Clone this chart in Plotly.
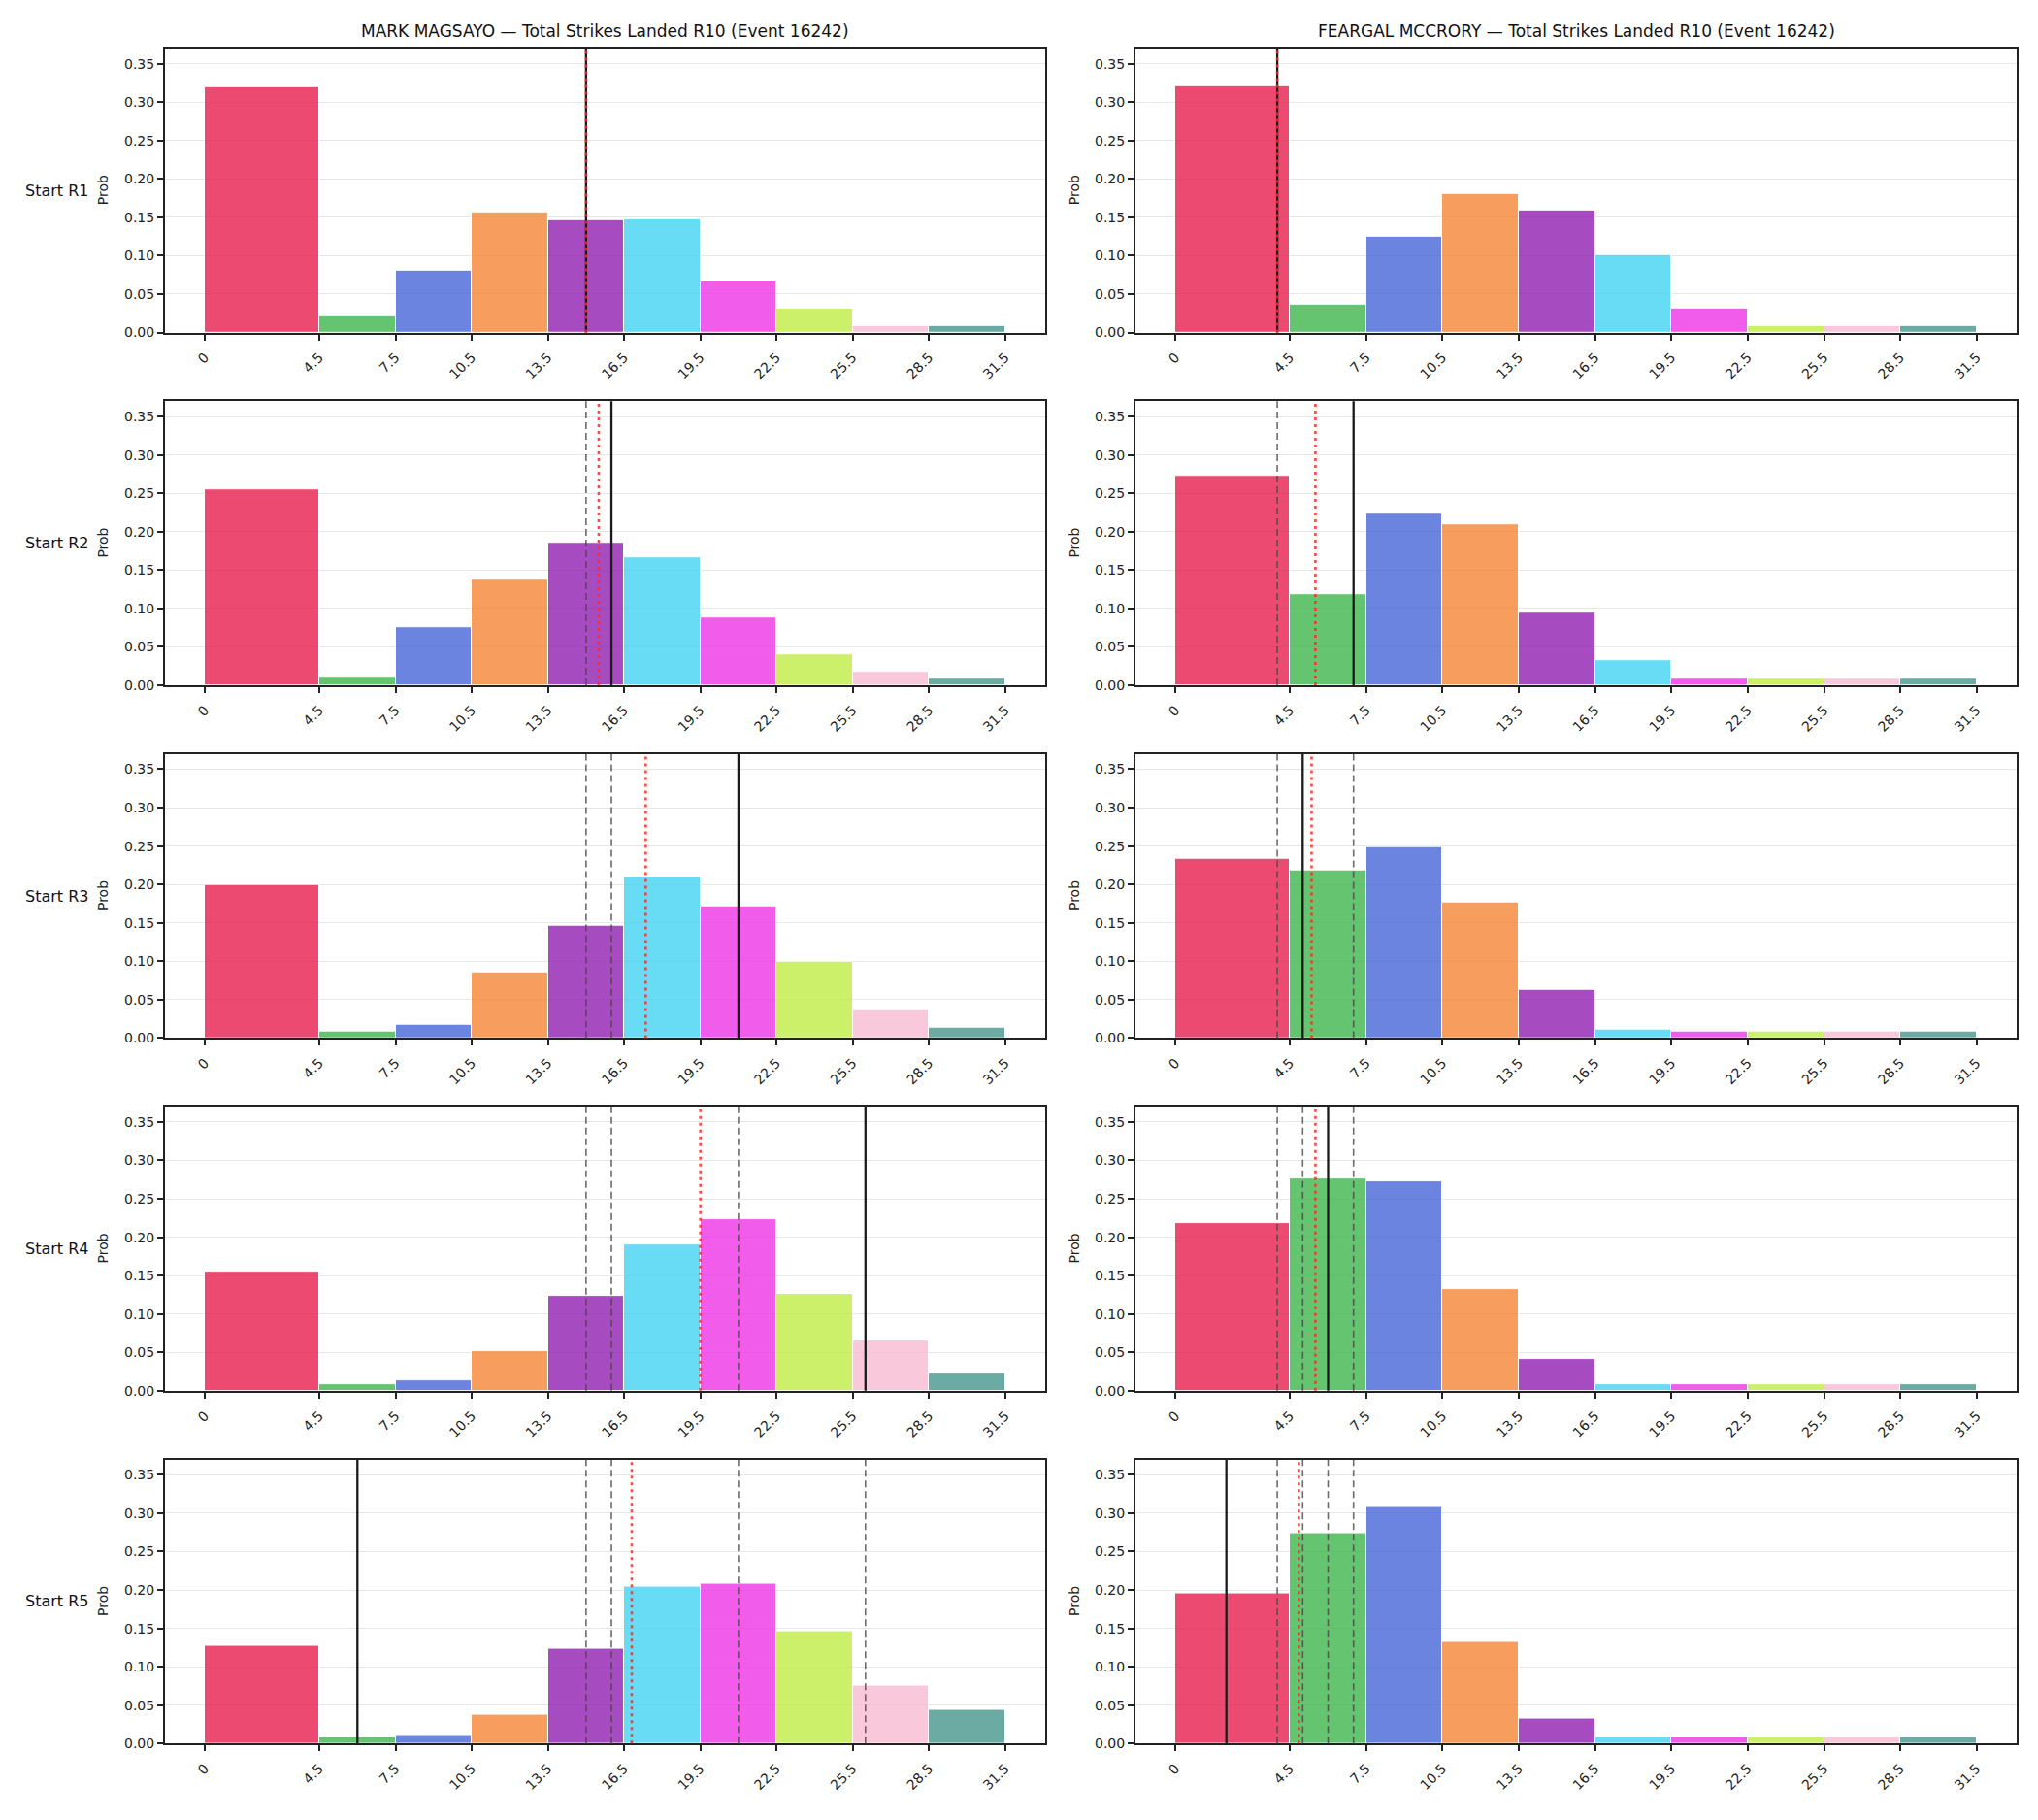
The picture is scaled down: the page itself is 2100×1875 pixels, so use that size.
import plotly.graph_objects as go
from plotly.subplots import make_subplots

# ---------------- data ----------------
edges = [0, 4.5, 7.5, 10.5, 13.5, 16.5, 19.5, 22.5, 25.5, 28.5, 31.5]
tick_labels = ["0", "4.5", "7.5", "10.5", "13.5", "16.5", "19.5", "22.5", "25.5", "28.5", "31.5"]
row_labels = ["Start R1", "Start R2", "Start R3", "Start R4", "Start R5"]
fighters = ["MARK MAGSAYO", "FEARGAL MCCRORY"]
title_suffix = " — Total Strikes Landed R10 (Event 16242)"

magsayo_r1 = [0.319, 0.021, 0.080, 0.156, 0.146, 0.147, 0.067, 0.031, 0.008, 0.008]
magsayo_r2 = [0.255, 0.011, 0.075, 0.137, 0.185, 0.166, 0.088, 0.040, 0.018, 0.008]
magsayo_r3 = [0.199, 0.008, 0.018, 0.085, 0.146, 0.209, 0.171, 0.099, 0.036, 0.013]
magsayo_r4 = [0.155, 0.008, 0.013, 0.051, 0.124, 0.191, 0.224, 0.126, 0.066, 0.023]
magsayo_r5 = [0.127, 0.009, 0.011, 0.038, 0.123, 0.204, 0.208, 0.146, 0.075, 0.044]

mccrory_r1 = [0.321, 0.036, 0.125, 0.181, 0.159, 0.101, 0.031, 0.009, 0.008, 0.008]
mccrory_r2 = [0.273, 0.119, 0.223, 0.209, 0.095, 0.032, 0.008, 0.008, 0.008, 0.008]
mccrory_r3 = [0.233, 0.218, 0.249, 0.177, 0.063, 0.011, 0.008, 0.008, 0.008, 0.008]
mccrory_r4 = [0.218, 0.277, 0.273, 0.132, 0.042, 0.008, 0.008, 0.008, 0.008, 0.008]
mccrory_r5 = [0.195, 0.274, 0.308, 0.133, 0.033, 0.009, 0.009, 0.009, 0.009, 0.009]

# solid black line (line at each start round), red dotted (mean)
magsayo_line = [15.0, 16.0, 21.0, 26.0, 6.0]
magsayo_mean = [15.0, 15.5, 17.35, 19.5, 16.8]
mccrory_line = [4.0, 7.0, 5.0, 6.0, 2.0]
mccrory_mean = [4.0, 5.5, 5.35, 5.5, 4.85]

bin_colors = [
    "rgba(231,29,76,0.8)", "rgba(63,181,75,0.8)", "rgba(69,101,216,0.8)",
    "rgba(245,133,54,0.8)", "rgba(144,31,176,0.8)", "rgba(68,211,243,0.8)",
    "rgba(239,51,229,0.8)", "rgba(191,236,69,0.8)", "rgba(248,186,210,0.8)",
    "rgba(70,150,140,0.8)",
]

series = [
    [magsayo_r1, magsayo_r2, magsayo_r3, magsayo_r4, magsayo_r5],
    [mccrory_r1, mccrory_r2, mccrory_r3, mccrory_r4, mccrory_r5],
]
lines = [magsayo_line, mccrory_line]
means = [magsayo_mean, mccrory_mean]

# ---------------- figure ----------------
W, H = 2100, 1875
FONT = "DejaVu Sans"
centers = [(a + b) / 2 for a, b in zip(edges[:-1], edges[1:])]
widths = [b - a for a, b in zip(edges[:-1], edges[1:])]

fig = make_subplots(rows=5, cols=2)

col_x = [(170, 1077), (1170, 2078)]
row_top = [50, 415, 780, 1145, 1510]
row_h = 294
prob_x = [106, 1107]

for c in range(2):
    for r in range(5):
        fig.add_trace(
            go.Bar(
                x=centers, y=series[c][r], width=widths,
                marker=dict(color=bin_colors, line=dict(color="white", width=1)),
                showlegend=False, hoverinfo="x+y",
            ),
            row=r + 1, col=c + 1,
        )
        x0p, x1p = col_x[c]
        top = row_top[r]
        bot = top + row_h
        fig.update_xaxes(
            domain=[x0p / W, x1p / W], range=[-1.575, 33.075],
            tickmode="array", tickvals=edges, ticktext=tick_labels, tickangle=-45,
            showgrid=False, zeroline=False, showline=True, mirror=True,
            linecolor="#222222", linewidth=2, ticks="outside", ticklen=6,
            tickwidth=1.5, tickcolor="#222222", ticklabelstandoff=4,
            tickfont=dict(family=FONT, size=14, color="#222222"),
            row=r + 1, col=c + 1,
        )
        fig.update_yaxes(
            domain=[1 - bot / H, 1 - top / H], range=[0, 0.37],
            tickmode="array", tickvals=[0, 0.05, 0.1, 0.15, 0.2, 0.25, 0.3, 0.35],
            tickformat=".2f", showgrid=True, gridcolor="#e6e6e6", gridwidth=1,
            zeroline=False, showline=True, mirror=True,
            linecolor="#222222", linewidth=2, ticks="outside", ticklen=6,
            tickwidth=1.5, tickcolor="#222222",
            tickfont=dict(family=FONT, size=14, color="#222222"),
            row=r + 1, col=c + 1,
        )
        # previous start-round lines (dashed grey)
        for v in lines[c][:r]:
            fig.add_vline(x=v, row=r + 1, col=c + 1,
                          line=dict(color="rgba(70,70,70,0.8)", width=1.6, dash="7px,4px"))
        # current line (solid black)
        fig.add_vline(x=lines[c][r], row=r + 1, col=c + 1,
                      line=dict(color="#1a1a1a", width=2.3))
        # mean (red dotted)
        fig.add_vline(x=means[c][r], row=r + 1, col=c + 1,
                      line=dict(color="rgba(255,40,40,0.85)", width=2.6, dash="3px,4px"))
        # Prob label
        fig.add_annotation(
            x=prob_x[c] / W, y=1 - (top + row_h / 2) / H, xref="paper", yref="paper",
            text="Prob", textangle=-90, showarrow=False, xanchor="center", yanchor="middle",
            font=dict(family=FONT, size=14, color="#222222"),
        )
        if c == 0:
            fig.add_annotation(
                x=24 / W, y=1 - (top + row_h / 2) / H, xref="paper", yref="paper",
                text=row_labels[r], showarrow=False, xanchor="left", yanchor="middle",
                font=dict(family=FONT, size=16, color="#111111"),
            )
    # column title
    fig.add_annotation(
        x=(col_x[c][0] + col_x[c][1]) / 2 / W, y=1 - 32 / H, xref="paper", yref="paper",
        text=fighters[c] + title_suffix, showarrow=False, xanchor="center", yanchor="middle",
        font=dict(family=FONT, size=17, color="#111111"),
    )

fig.update_layout(
    width=W, height=H, margin=dict(l=0, r=0, t=0, b=0),
    plot_bgcolor="white", paper_bgcolor="white", bargap=0,
    font=dict(family=FONT),
)

fig.write_html("out.html")
